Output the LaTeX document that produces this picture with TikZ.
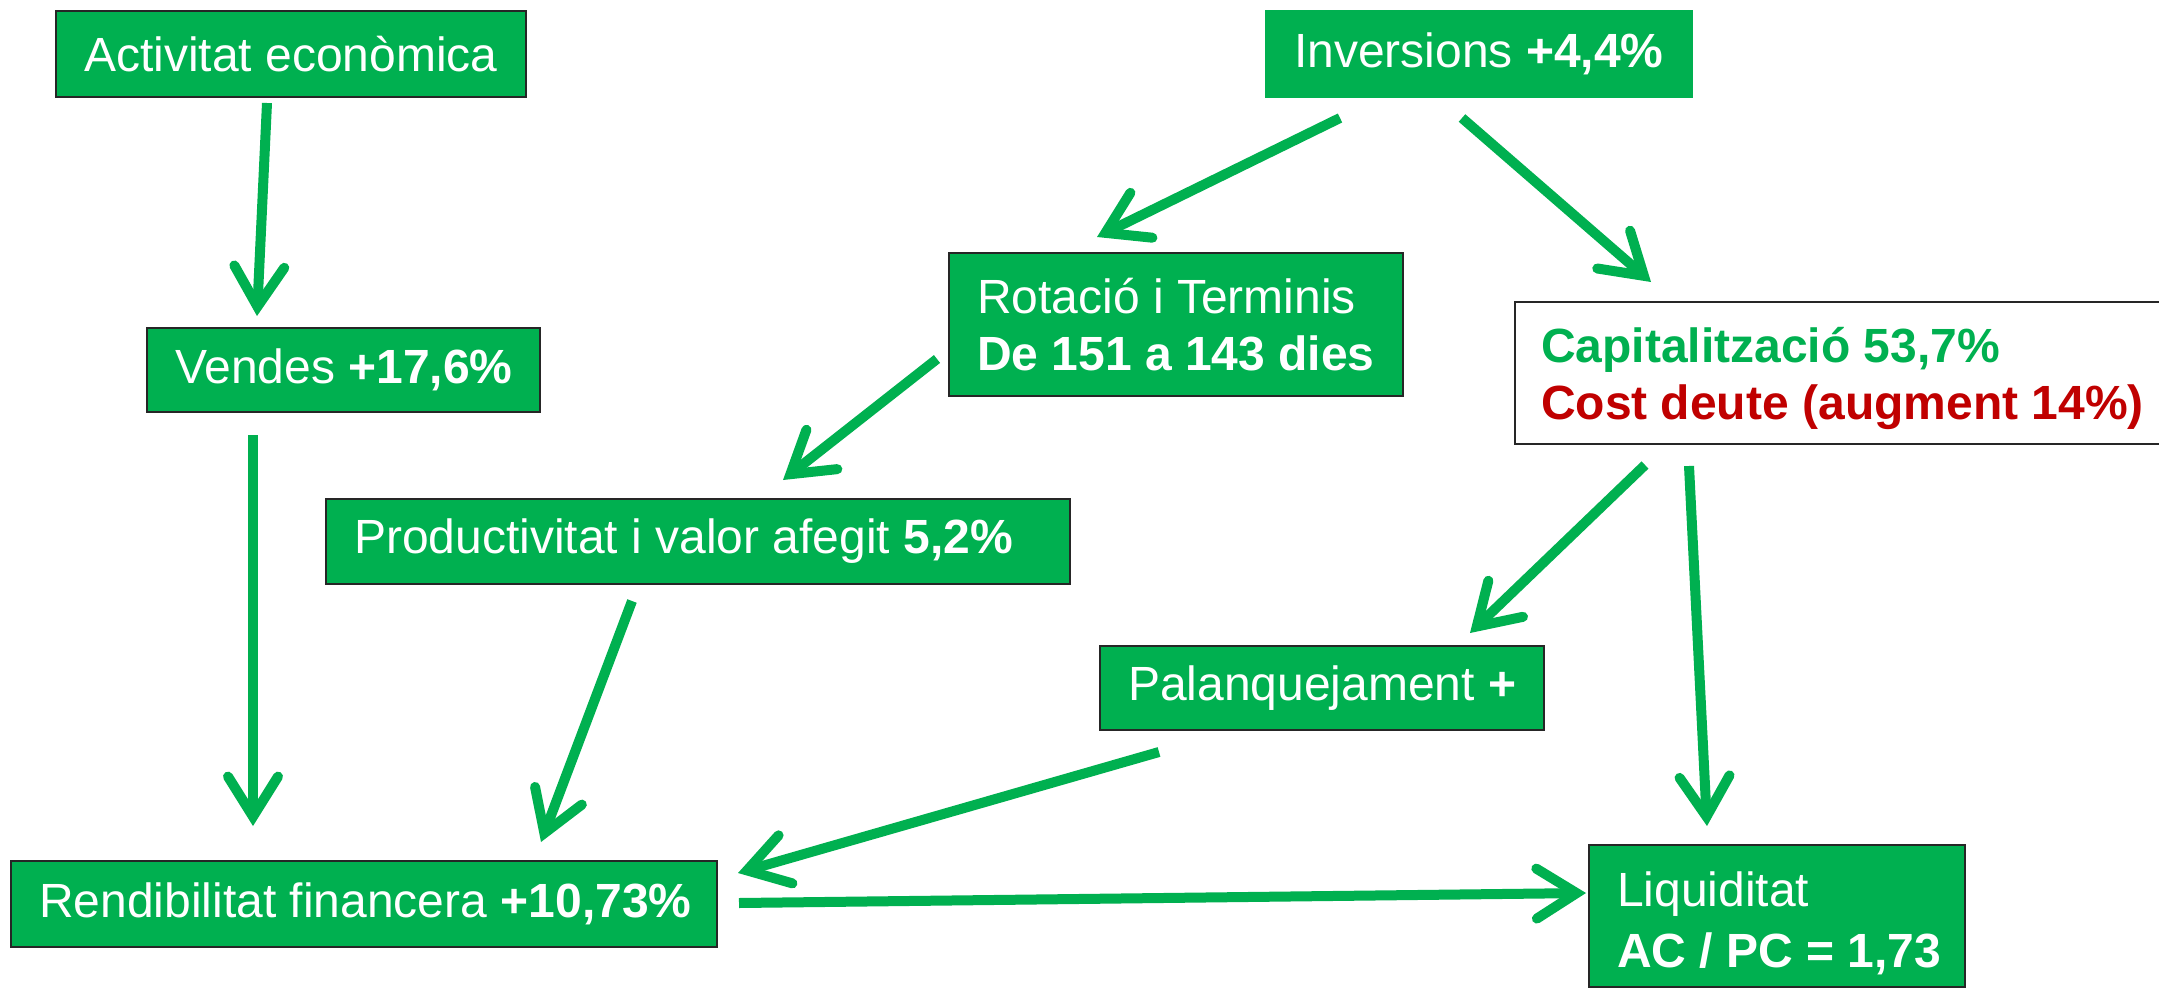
\documentclass[tikz,border=0pt]{standalone}
\usepackage{fontspec}
\setmainfont{Liberation Sans}
\usetikzlibrary{arrows.meta}
\definecolor{pgreen}{RGB}{0,176,80}
\definecolor{pred}{RGB}{192,0,0}
\newcommand{\lineA}[1]{\mbox{\spaceskip=0pt\xspaceskip=0pt #1}}
\newcommand{\strA}{\rule[-11pt]{0pt}{57pt}}
\newcommand{\strB}{\rule[-7pt]{0pt}{57pt}}
\begin{document}
\begin{tikzpicture}[x=1pt,y=-1pt,
  every node/.style={font=\fontsize{48}{57}\selectfont},
  gbox/.style={draw=black!85, line width=2pt, fill=pgreen, text=white, align=left,
    inner xsep=28pt, inner ysep=0pt},
  conn/.style={draw=pgreen, line width=10pt,
    -{Straight Barb[length=40pt,width=50pt,line width=10pt,line cap=round,line join=miter]}}]
\clip (0,0) rectangle (2159,990);
\fill[white] (0,0) rectangle (2159,990);

\node[gbox, text width=414pt, minimum height=85pt] (act) at (291,54) {\lineA{Activitat econòmica}};
\node[gbox, draw=pgreen, text width=370pt, minimum height=86pt] (inv) at (1479,54) {\lineA{Inversions \textbf{+4,4\%}}};
\node[gbox, text width=398pt, minimum height=143pt] (rot) at (1176,324.5) {\lineA{\strA Rotació i Terminis}\\\lineA{\strA\textbf{De 151 a 143 dies}}};
\node[gbox, fill=white, inner xsep=26pt, text width=598pt, minimum height=142pt] (cap) at (1840,373) {\lineA{\strA\textbf{\textcolor{pgreen}{Capitalització 53,7\%}}}\\\lineA{\strA\textbf{\textcolor{pred}{Cost deute (augment 14\%)}}}};
\node[gbox, text width=337pt, minimum height=84pt] (ven) at (343.5,370) {\lineA{Vendes \textbf{+17,6\%}}};
\node[gbox, text width=688pt, minimum height=85pt] (prod) at (698,541.5) {\lineA{Productivitat i valor afegit \textbf{5,2\%}}};
\node[gbox, text width=388pt, minimum height=84pt] (pal) at (1322,688) {\lineA{Palanquejament \textbf{+}}};
\node[gbox, text width=650pt, minimum height=86pt] (ren) at (364,904) {\lineA{Rendibilitat financera \textbf{+10,73\%}}};
\node[gbox, text width=320pt, minimum height=142pt] (liq) at (1777,916) {\lineA{\strB Liquiditat}\\\lineA{\strB\textbf{AC / PC = 1,73}}};

\coordinate (a1s) at (267,103);  \coordinate (a1e) at (257,316);
\coordinate (a2s) at (1340,118); \coordinate (a2e) at (1097,237);
\coordinate (a3s) at (1462,118); \coordinate (a3e) at (1651,282);
\coordinate (a4s) at (937,359);  \coordinate (a4e) at (783,480);
\coordinate (a5s) at (253,435);  \coordinate (a5e) at (253,826);
\coordinate (a6s) at (632,601);  \coordinate (a6e) at (541,842);
\coordinate (a7s) at (1645,465); \coordinate (a7e) at (1470,633);
\coordinate (a8s) at (1689,466); \coordinate (a8e) at (1707,826);
\coordinate (a9s) at (1159,752); \coordinate (a9e) at (738,873);
\coordinate (a10s) at (739,903); \coordinate (a10e) at (1586,893);

\draw[conn] (a1s) -- (a1e);
\draw[conn] (a2s) -- (a2e);
\draw[conn] (a3s) -- (a3e);
\draw[conn] (a4s) -- (a4e);
\draw[conn] (a5s) -- (a5e);
\draw[conn] (a6s) -- (a6e);
\draw[conn] (a7s) -- (a7e);
\draw[conn] (a8s) -- (a8e);
\draw[conn] (a9s) -- (a9e);
\draw[conn] (a10s) -- (a10e);
\end{tikzpicture}
\end{document}
